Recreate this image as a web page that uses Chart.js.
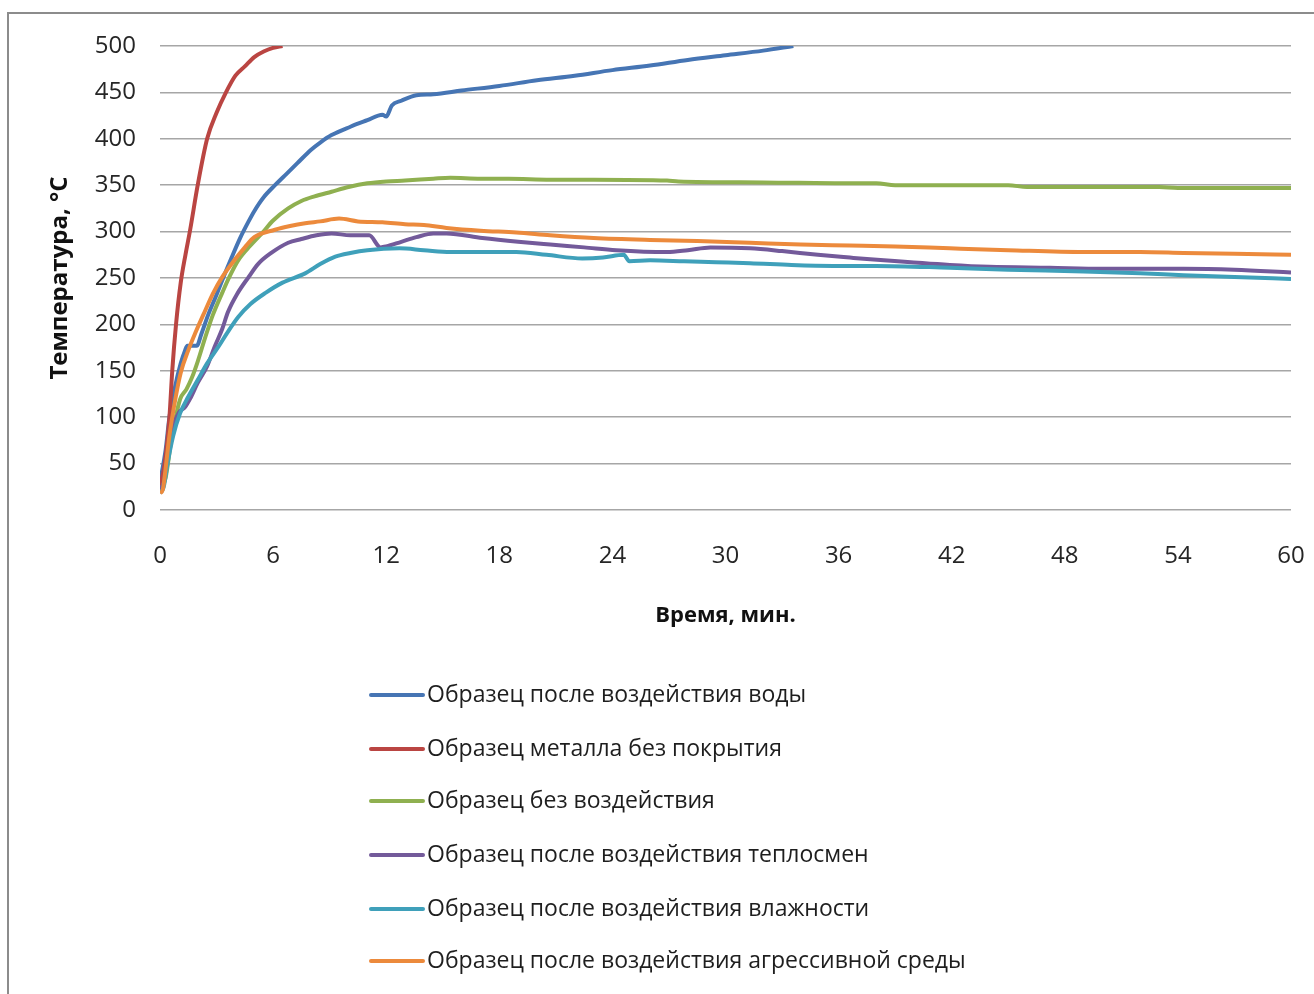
<!DOCTYPE html>
<html>
<head>
<meta charset="utf-8">
<script src="https://cdn.jsdelivr.net/npm/chart.js@4/dist/chart.umd.min.js"></script>
<style>
    body { margin: 0; background: #fff; overflow: hidden; }
    #wrap { position: relative; width: 1314px; height: 994px; }
    #frame {
        position: absolute; left: 7px; top: 12px; width: 1320px; height: 1000px;
        border: 2px solid #8c8c8c; box-sizing: border-box;
    }
    canvas { position: absolute; left: 0; top: 0; }
</style>
</head>
<body>
<div id="wrap">
    <div id="frame"></div>
    <canvas id="chart" width="1314" height="994"></canvas>
</div>
<script>
// Temperature of samples during fire test
const seriesNames = [
    'Образец после воздействия воды',
    'Образец металла без покрытия',
    'Образец без воздействия',
    'Образец после воздействия теплосмен',
    'Образец после воздействия влажности',
    'Образец после воздействия агрессивной среды'
];
const seriesColors = ['#4675B4', '#BA4542', '#8FB050', '#735A9A', '#3FA0BA', '#EC8A3C'];

const waterTime = [0, 0.3, 0.5, 0.8, 1.1, 1.33, 1.45, 1.95, 2.2, 2.55, 3.0, 3.35, 3.8, 4.25, 4.7, 5.0, 5.5, 6.1, 6.7, 7.3, 8.0, 8.5, 9.1, 10.1, 11.0, 11.8, 12.0, 12.3, 12.8, 13.6, 14.5, 16, 18, 20, 22, 24, 26, 28, 30, 32, 33.6];
const waterTemp = [30, 65, 100, 133, 158, 172, 177, 177, 190, 210, 232, 250, 272, 293, 311, 322, 337, 350, 362, 374, 388, 396, 404, 413, 420, 426, 424, 436, 441, 447, 448, 452, 457, 463, 468, 474, 479, 485, 490, 495, 500];

const metalTime = [0, 0.25, 0.5, 0.65, 0.85, 1.1, 1.35, 1.6, 2.0, 2.5, 3.0, 3.5, 4.0, 4.5, 5.0, 5.5, 6.0, 6.5];
const metalTemp = [25, 50, 100, 150, 200, 245, 275, 302, 350, 400, 428, 450, 468, 478, 488, 494, 498, 500];

const plainTime = [0, 0.3, 0.6, 1.06, 1.4, 1.7, 2.0, 2.4, 2.8, 3.3, 3.7, 4.15, 4.8, 5.4, 6.0, 6.8, 7.5, 8.2, 9.1, 10, 11, 12, 13, 14.5, 15.4, 17, 18.5, 20.7, 23, 26.9, 27.5, 32, 36.6, 38, 39, 45, 46, 53, 54, 60];
const plainTemp = [20, 35, 75, 119, 130, 143, 160, 186, 210, 234, 252, 269, 285, 298, 312, 325, 333, 338, 343, 348, 352, 354, 355, 357, 358, 357, 357, 356, 356, 355, 354, 353, 352, 352, 350, 350, 348, 348, 347, 347];

const cycleTime = [0, 0.2, 0.4, 0.7, 1.0, 1.33, 1.6, 2.0, 2.5, 2.9, 3.3, 3.6, 4.1, 4.7, 5.2, 5.9, 6.8, 7.5, 8.3, 9.1, 10.1, 11.1, 11.7, 12.0, 12.8, 13.6, 14.5, 15.2, 17.1, 19, 20.7, 22.5, 24.2, 26.9, 28, 29.2, 31.3, 33, 34.9, 36.6, 38.4, 41.9, 44, 47.2, 50, 54.3, 57, 60];
const cycleTemp = [22, 30, 60, 90, 105, 111, 120, 137, 155, 176, 195, 213, 233, 251, 265, 277, 288, 292, 296, 298, 296, 296, 283, 284, 289, 294, 298, 298, 293, 289, 286, 283, 280, 278, 280, 283, 282, 279, 275, 272, 269, 264, 262, 261, 260, 260, 259, 256];

const humidTime = [0, 0.2, 0.4, 0.7, 1.06, 1.5, 2.0, 2.5, 3.1, 3.6, 4.15, 4.8, 5.6, 6.5, 7.7, 8.5, 9.3, 10.1, 11, 12.7, 14, 15.4, 17, 18.9, 20.5, 22.4, 23.5, 24.6, 24.9, 26, 27.8, 29.5, 31.3, 33.5, 35.7, 38, 41.9, 45, 49, 52, 54.3, 57, 60];
const humidTemp = [18, 25, 50, 80, 104, 122, 140, 158, 176, 192, 208, 222, 234, 245, 255, 265, 273, 277, 280, 282, 280, 278, 278, 278, 275, 271, 272, 275, 268, 269, 268, 267, 266, 264, 263, 263, 261, 259, 257, 255, 253, 251, 249];

const acidTime = [0, 0.15, 0.27, 0.5, 0.8, 1.1, 1.5, 1.9, 2.4, 2.8, 3.3, 3.9, 4.5, 5.0, 6.1, 6.9, 7.7, 8.5, 9.5, 10.5, 11.8, 13, 14, 15.2, 17, 18.9, 20.7, 23, 26, 28.5, 31.3, 34, 36.6, 39, 41.9, 45, 49, 52, 54.3, 57, 60];
const acidTemp = [18, 22, 40, 80, 118, 148, 172, 192, 215, 233, 251, 268, 283, 294, 302, 306, 309, 311, 314, 311, 310, 308, 307, 304, 301, 299, 296, 293, 291, 290, 288, 286, 285, 284, 282, 280, 278, 278, 277, 276, 275];

const xTicks = [0, 6, 12, 18, 24, 30, 36, 42, 48, 54, 60];
const yTicks = [0, 50, 100, 150, 200, 250, 300, 350, 400, 450, 500];

const seriesTimes = [waterTime, metalTime, plainTime, cycleTime, humidTime, acidTime];
const seriesTemps = [waterTemp, metalTemp, plainTemp, cycleTemp, humidTemp, acidTemp];

const FONT = '"Open Sans", "Noto Sans", sans-serif';

// legend drawn as one column under the plot
const columnLegend = {
    id: 'columnLegend',
    afterDraw(chart) {
        const ctx = chart.ctx;
        const rows = [695, 749, 801, 855, 909, 961];
        ctx.save();
        ctx.font = '23px ' + FONT;
        ctx.textBaseline = 'middle';
        ctx.textAlign = 'left';
        chart.data.datasets.forEach((ds, i) => {
            const y = rows[i];
            ctx.strokeStyle = ds.borderColor;
            ctx.lineWidth = 4;
            ctx.lineCap = 'round';
            ctx.beginPath();
            ctx.moveTo(371, y);
            ctx.lineTo(423, y);
            ctx.stroke();
            ctx.fillStyle = '#1e1e1e';
            ctx.fillText(ds.label, 427, y);
        });
        ctx.restore();
    }
};

const datasets = seriesNames.map((name, i) => ({
    label: name,
    data: seriesTimes[i].map((t, k) => ({ x: t, y: seriesTemps[i][k] })),
    borderColor: seriesColors[i],
    backgroundColor: seriesColors[i],
    borderWidth: 4,
    pointRadius: 0,
    cubicInterpolationMode: 'monotone',
    order: seriesNames.length - i
}));

new Chart(document.getElementById('chart'), {
    type: 'line',
    data: { datasets },
    options: {
        responsive: false,
        devicePixelRatio: 1,
        animation: false,
        layout: { padding: { left: 0, right: 0, top: 46, bottom: 365 } },
        plugins: {
            legend: { display: false },
            tooltip: { enabled: false }
        },
        scales: {
            x: {
                type: 'linear',
                min: 0,
                max: 60,
                afterBuildTicks: (scale) => { scale.ticks = xTicks.map(v => ({ value: v })); },
                afterFit: (scale) => {
                    scale.height = 119;
                    scale.paddingLeft = 0;
                    scale.paddingRight = 23;
                },
                grid: { display: false, drawTicks: false },
                border: { display: false },
                ticks: { padding: 32, maxRotation: 0, minRotation: 0, color: '#262626', font: { family: FONT, size: 24 } },
                title: {
                    display: true,
                    text: 'Время, мин.',
                    color: '#111',
                    padding: { top: 0, bottom: 0 },
                    font: { family: FONT, size: 22, weight: 'bold' }
                }
            },
            y: {
                min: 0,
                max: 500,
                afterBuildTicks: (scale) => { scale.ticks = yTicks.map(v => ({ value: v })); },
                afterFit: (scale) => { scale.width = 160; },
                grid: { color: '#a6a6a6', lineWidth: 1.5, drawTicks: false },
                border: { display: false },
                ticks: { padding: 24, color: '#262626', font: { family: FONT, size: 24 } },
                title: {
                    display: true,
                    text: 'Температура, °С',
                    color: '#111',
                    padding: { top: 46, bottom: 0 },
                    font: { family: FONT, size: 24, weight: 'bold' }
                }
            }
        }
    },
    plugins: [columnLegend]
});
</script>
</body>
</html>
